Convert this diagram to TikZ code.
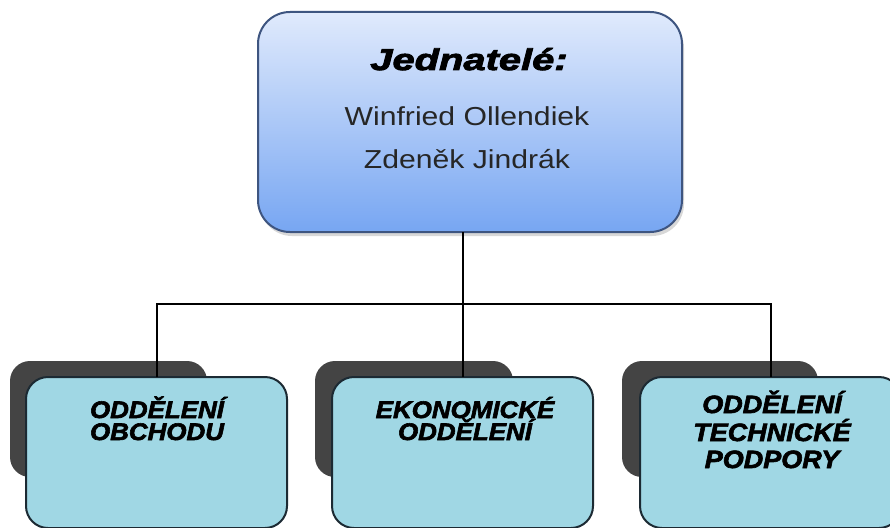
\documentclass[tikz,border=0pt]{standalone}
\usepackage{fontspec}
\setmainfont{Liberation Sans}
\newfontfamily\namefont{Liberation Sans}[FakeStretch=1.16]
\newfontfamily\titlefont{Liberation Sans}[FakeStretch=1.33, FakeBold=3]
\newfontfamily\deptfont{Liberation Sans}[FakeStretch=1.08, FakeBold=2.5]
\usetikzlibrary{shadows}

\definecolor{headtop}{HTML}{E0EAFC}
\definecolor{headbot}{HTML}{77A6F2}
\definecolor{headline}{HTML}{3E5580}
\definecolor{deptfill}{HTML}{A0D7E4}
\definecolor{deptline}{HTML}{1C2A33}
\definecolor{backfill}{HTML}{444444}

\tikzset{
  headbox/.style={rounded corners=32pt, draw=headline, line width=2pt,
    top color=headtop, bottom color=headbot,
    drop shadow={opacity=0.3, shadow xshift=2pt, shadow yshift=-4pt},
    minimum width=424pt, minimum height=220pt, inner sep=0pt, outer sep=0pt},
  backbox/.style={rounded corners=20pt, fill=backfill,
    minimum height=116pt, inner sep=0pt, outer sep=0pt},
  deptbox/.style={rounded corners=22pt, draw=deptline, fill=deptfill,
    line width=2pt, minimum width=261pt, minimum height=151pt,
    inner sep=0pt, outer sep=0pt},
  link/.style={draw=black, line width=2pt},
  titletext/.style={anchor=base, inner sep=0pt,
    font=\titlefont\bfseries\itshape\fontsize{30}{32}\selectfont},
  nametext/.style={anchor=base, inner sep=0pt, text=black!85,
    font=\namefont\fontsize{26}{28}\selectfont},
  depttext/.style={anchor=base, inner sep=0pt,
    font=\deptfont\bfseries\itshape\fontsize{24}{26}\selectfont},
  deptbig/.style={depttext, font=\deptfont\bfseries\itshape\fontsize{25}{27}\selectfont}
}

\begin{document}
\begin{tikzpicture}[x=1pt, y=-1pt]
  \useasboundingbox (0,0) rectangle (890,527);
  \clip (0,0) rectangle (890,527);
  \fill[white] (0,0) rectangle (890,527);

  % managing directors
  \node[headbox] (head) at (470,122) {};
  \node[titletext] (title) at (469,70) {Jednatelé:};
  \node[nametext] (name1) at (467,125) {Winfried Ollendiek};
  \node[nametext] (name2) at (467,168) {Zdeněk Jindrák};

  % dark backing tiles behind the departments
  \node[backbox, minimum width=197pt] (back1) at (108.5,419) {};
  \node[backbox, minimum width=198pt] (back2) at (414,419) {};
  \node[backbox, minimum width=196pt] (back3) at (720,419) {};

  % departments
  \node[deptbox] (dep1) at (156.5,452.5) {};
  \node[deptbox] (dep2) at (462.5,452.5) {};
  \node[deptbox] (dep3) at (770.5,452.5) {};

  \node[depttext] (d1a) at (157,418) {ODDĚLENÍ};
  \node[depttext] (d1b) at (157,440) {OBCHODU};

  \node[depttext] (d2a) at (465,418) {EKONOMICKÉ};
  \node[depttext] (d2b) at (465,440) {ODDĚLENÍ};

  \node[deptbig] (d3a) at (772,413) {ODDĚLENÍ};
  \node[deptbig] (d3b) at (772,441) {TECHNICKÉ};
  \node[deptbig] (d3c) at (772,468) {PODPORY};

  % connectors
  \coordinate (bus) at (0,304);
  \draw[link] (head.south -| dep2.north) -- (dep2.north);
  \draw[link] (dep1.north) -- (dep1.north |- bus) -- (dep3.north |- bus) -- (dep3.north);
\end{tikzpicture}
\end{document}
